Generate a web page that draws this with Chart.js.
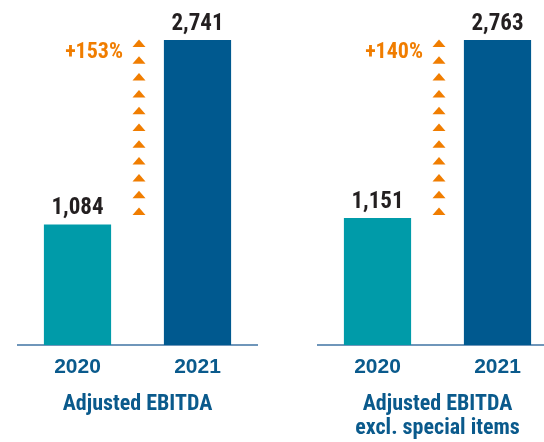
<!DOCTYPE html>
<html>
<head>
<meta charset="utf-8">
<script src="https://cdn.jsdelivr.net/npm/chart.js@4"></script>
<style>
  html, body { margin: 0; padding: 0; background: #fff; overflow: hidden; width: 544px; height: 442px; }
  .panel { position: absolute; top: 0; width: 300px; height: 442px; }
</style>
</head>
<body>
<div class="panel" style="left:0"><canvas id="ebitda" width="300" height="442"></canvas></div>
<div class="panel" style="left:300px"><canvas id="ebitdaExcl" width="300" height="442"></canvas></div>
<script>
// données
const years = ['2020', '2021'];
const adjEbitda = [1084, 2741];
const adjEbitdaExcl = [1151, 2763];
const growthLabels = ['+153%', '+140%'];
const panelTitles = ['Adjusted EBITDA', ['Adjusted EBITDA', 'excl. special items']];

const narrow = '"Roboto Condensed", "Open Sans", sans-serif';
const barColors = ['#009ba9', '#00598f'];
const orange = '#f07d00';

// valeurs au-dessus des barres + flèches de croissance
const annotate = {
    id: 'annotate',
    afterDatasetsDraw(chart, args, opts) {
        const ctx = chart.ctx;
        const bars = chart.getDatasetMeta(0).data;
        const vals = chart.data.datasets[0].data;
        ctx.save();
        ctx.fillStyle = '#231f20';
        ctx.font = 'bold 23px ' + narrow;
        ctx.textAlign = 'center';
        ctx.textBaseline = 'alphabetic';
        bars.forEach((b, i) => ctx.fillText(vals[i].toLocaleString('en-US'), b.x, b.y - 10));

        // flèches
        const ax = (bars[0].x + bars[1].x) / 2 + 1.5;
        const top = bars[1].y + 3.5;
        ctx.fillStyle = orange;
        for (let k = 0; k < 11; k++) {
            const cy = top + k * 16.8;
            ctx.beginPath();
            ctx.moveTo(ax - 6.5, cy + 3.5);
            ctx.lineTo(ax + 6.5, cy + 3.5);
            ctx.lineTo(ax, cy - 4);
            ctx.closePath();
            ctx.fill();
        }
        ctx.font = 'bold 22px ' + narrow;
        ctx.textAlign = 'right';
        ctx.fillText(opts.label, ax - 16, top + 14);
        ctx.restore();
    }
};

function makeChart(id, values, growth, title) {
    const ctx = document.getElementById(id).getContext('2d');
    return new Chart(ctx, {
        type: 'bar',
        data: {
            labels: years,
            datasets: [{
                data: values,
                backgroundColor: barColors,
                borderWidth: 0,
                barPercentage: 0.56,
                categoryPercentage: 1
            }]
        },
        options: {
            responsive: false,
            animation: false,
            devicePixelRatio: 1,
            layout: { padding: { top: 40, left: 17.5, right: 42.5, bottom: 0 } },
            plugins: {
                legend: { display: false },
                tooltip: { enabled: false },
                annotate: { label: growth }
            },
            scales: {
                y: { display: false, min: 0, max: Math.max(...values) },
                x: {
                    afterFit: (scale) => { scale.height = 97; },
                    grid: { display: false, drawTicks: false },
                    border: { display: true, color: '#6f96ba', width: 2 },
                    ticks: {
                        color: '#0a5a8c',
                        padding: 10,
                        font: { family: '"Liberation Sans", Arial, sans-serif', size: 21, weight: 'bold' }
                    },
                    title: {
                        display: true,
                        text: title,
                        color: '#0a5a8c',
                        padding: { top: 0, bottom: Array.isArray(title) ? 2 : 26 },
                        font: { family: narrow, size: 22, weight: 'bold', lineHeight: 1.09 }
                    }
                }
            }
        },
        plugins: [annotate]
    });
}

makeChart('ebitda', adjEbitda, growthLabels[0], panelTitles[0]);
makeChart('ebitdaExcl', adjEbitdaExcl, growthLabels[1], panelTitles[1]);
</script>
</body>
</html>
